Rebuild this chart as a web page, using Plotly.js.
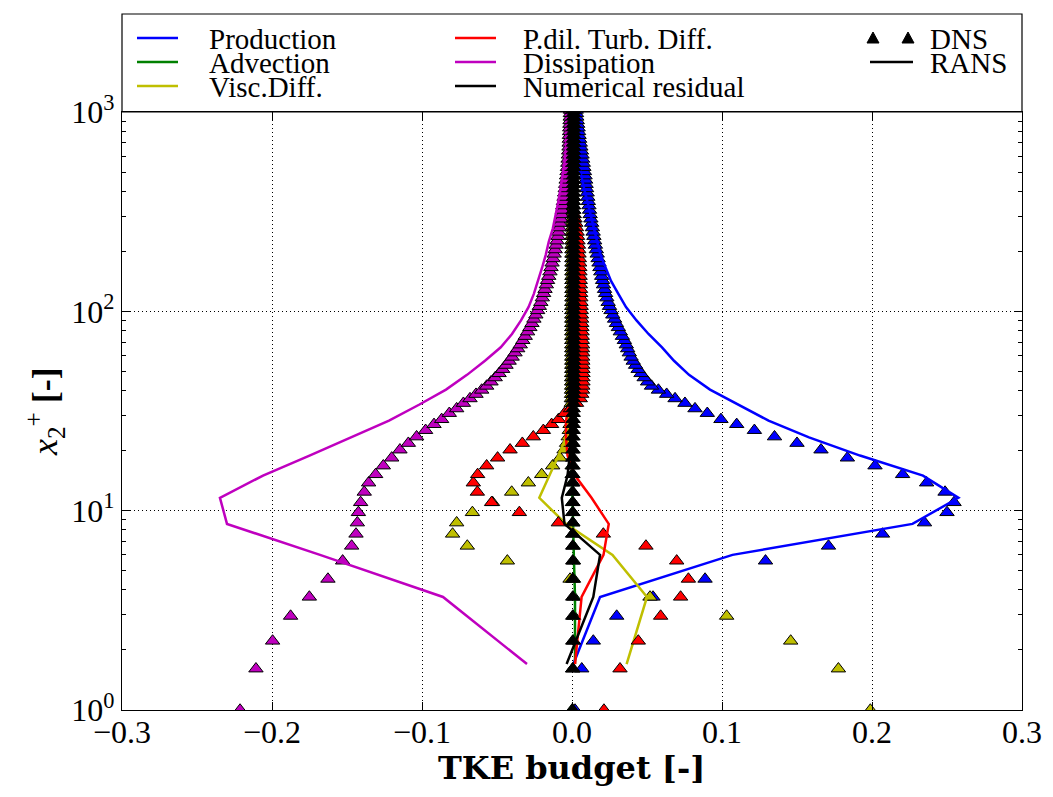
<!DOCTYPE html>
<html>
<head>
<meta charset="utf-8">
<script src="https://cdn.plot.ly/plotly-3.0.1.min.js"></script>
<style>
html,body{margin:0;padding:0;background:#fff;}
#chart{width:1053px;height:797px;}
</style>
</head>
<body>
<div id="chart"></div>
<script>
// ---------------- DATA ----------------
// DNS wall-normal grid (x2+)
const yDNS = [1.0, 1.61, 2.22, 2.96, 3.69, 4.54, 5.6, 6.65, 7.64, 8.7,
  9.8, 11.0, 12.4, 13.8, 15.2, 16.8, 18.4, 20.2, 21.8, 23.5,
  25.3, 27.1, 28.7, 30.8, 32.5, 34.6, 36.5, 38.4, 40.3, 42.2,
  44.3, 46.5, 48.8, 51.2, 53.7, 56.3, 59.0, 62.0, 65.0, 68.0,
  71.5, 75.0, 79.0, 83.0, 87.0, 91.5, 96.0, 101, 106, 111,
  117, 123, 129, 136, 143, 150, 158, 166, 175, 184,
  194, 204, 215, 226, 238, 250, 263, 277, 291, 306,
  322, 339, 356, 374, 393, 413, 434, 456, 479, 503,
  528, 554, 581, 609, 638, 668, 699, 731, 764, 798,
  833, 869, 906, 944, 983, 1023];

const prodDNS = [0.002, 0.0065, 0.0142, 0.0298, 0.054, 0.0887, 0.129, 0.171, 0.207, 0.235,
  0.250, 0.2547, 0.2487, 0.2364, 0.2204, 0.202, 0.1836, 0.166, 0.150, 0.135,
  0.1216, 0.1098, 0.0993, 0.0902, 0.082, 0.0753, 0.0687, 0.0631, 0.0576, 0.053,
  0.0504, 0.0481, 0.046, 0.0441, 0.0424, 0.0408, 0.0394, 0.0382, 0.0371, 0.0362,
  0.0349, 0.0336, 0.0322, 0.0309, 0.0296, 0.0284, 0.0272, 0.0260, 0.0250, 0.0241,
  0.0232, 0.0224, 0.0217, 0.0210, 0.0204, 0.0198, 0.0192, 0.0186, 0.0180, 0.0174,
  0.0168, 0.0162, 0.0156, 0.0151, 0.0146, 0.0141, 0.0136, 0.0131, 0.0126, 0.0121,
  0.0117, 0.0113, 0.0109, 0.0105, 0.0101, 0.0097, 0.0094, 0.0091, 0.0087, 0.0083,
  0.0079, 0.0075, 0.0071, 0.0067, 0.0063, 0.0059, 0.0055, 0.0051, 0.0047, 0.0044,
  0.0041, 0.0038, 0.0035, 0.0032, 0.0030, 0.0028];

const advDNS = [0.0, 0.0005, 0.001, 0.0012, 0.0012, 0.001, 0.001, 0.0008, 0.0006, 0.0005,
  0.0004, 0.0003, 0.0002, 0.0002, 0.0001, 0.0001, 0.0001, 0.0001, 0.0001, 0.0001,
  0.0001, 0.0001, 0.0001, 0.0001, 0.0001, 0.0001, 0.0001, 0.0001, 0.0001, 0.0001,
  0.0001, 0.0001, 0.0001, 0.0001, 0.0001, 0.0001, 0.0001, 0.0001, 0.0001, 0.0001,
  0.0001, 0.0001, 0.0001, 0.0001, 0.0001, 0.0001, 0.0001, 0.0001, 0.0001, 0.0001,
  0.0001, 0.0001, 0.0001, 0.0001, 0.0001, 0.0001, 0.0001, 0.0001, 0.0001, 0.0001,
  0.0001, 0.0001, 0.0001, 0.0001, 0.0001, 0.0001, 0.0001, 0.0001, 0.0001, 0.0001,
  0.0001, 0.0001, 0.0001, 0.0001, 0.0001, 0.0001, 0.0001, 0.0001, 0.0001, 0.0001,
  0.0001, 0.0001, 0.0001, 0.0001, 0.0001, 0.0001, 0.0001, 0.0001, 0.0001, 0.0001,
  0.0001, 0.0001, 0.0001, 0.0001, 0.0001, 0.0001];

const viscDNS = [0.1989, 0.1776, 0.1458, 0.1031, 0.052, -0.0013, -0.0431, -0.0698, -0.0796, -0.0769,
  -0.0664, -0.053, -0.0402, -0.0291, -0.0202, -0.0129, -0.008, -0.0053, -0.0036, -0.0025,
  -0.0018, -0.0013, -0.001, -0.0008, -0.0006, -0.0005, -0.0004, -0.0003, -0.0003, -0.0002,
  -0.0002, -0.0002, -0.0002, -0.0001, -0.0001, -0.0001, -0.0001, -0.0001, -0.0001, -0.0001,
  -0.0001, -0.0001, -0.0001, -0.0001, -0.0001, -0.0001, -0.0001, -0.0001, -0.0001, -0.0001,
  0.0, 0.0, 0.0, 0.0, 0.0, 0.0, 0.0, 0.0, 0.0, 0.0,
  0.0, 0.0, 0.0, 0.0, 0.0, 0.0, 0.0, 0.0, 0.0, 0.0,
  0.0, 0.0, 0.0, 0.0, 0.0, 0.0, 0.0, 0.0, 0.0, 0.0,
  0.0, 0.0, 0.0, 0.0, 0.0, 0.0, 0.0, 0.0, 0.0, 0.0,
  0.0, 0.0, 0.0, 0.0, 0.0, 0.0];

const pdilDNS = [0.0213, 0.032, 0.0442, 0.0591, 0.0724, 0.0776, 0.0698, 0.0493, 0.0209, -0.0091,
  -0.0351, -0.0536, -0.0631, -0.0658, -0.0629, -0.0569, -0.0496, -0.0413, -0.0331, -0.0258,
  -0.0191, -0.0136, -0.009, -0.005, -0.001, 0.003, 0.0055, 0.0065, 0.007, 0.0072,
  0.0073, 0.0073, 0.0073, 0.0073, 0.0072, 0.0072, 0.0071, 0.0071, 0.0070, 0.0070,
  0.0069, 0.0068, 0.0067, 0.0066, 0.0065, 0.0064, 0.0063, 0.0062, 0.0061, 0.0060,
  0.0059, 0.0058, 0.0057, 0.0056, 0.0055, 0.0054, 0.0053, 0.0052, 0.0051, 0.0049,
  0.0047, 0.0045, 0.0043, 0.0040, 0.0037, 0.0034, 0.0030, 0.0025, 0.0020, 0.0015,
  0.0011, 0.0008, 0.0006, 0.0005, 0.0004, 0.0004, 0.0003, 0.0003, 0.0003, 0.0003,
  0.0002, 0.0002, 0.0002, 0.0002, 0.0002, 0.0002, 0.0002, 0.0002, 0.0001, 0.0001,
  0.0001, 0.0001, 0.0001, 0.0001, 0.0001, 0.0001];

const dissDNS = [-0.2213, -0.2107, -0.1996, -0.1876, -0.1751, -0.1627, -0.1529, -0.1469, -0.144, -0.1431,
  -0.1424, -0.1409, -0.1385, -0.1356, -0.1309, -0.1258, -0.1202, -0.1147, -0.1091, -0.1036,
  -0.0976, -0.092, -0.0869, -0.0818, -0.0769, -0.0724, -0.068, -0.064, -0.0602, -0.0569,
  -0.054, -0.0512, -0.0486, -0.0462, -0.044, -0.0419, -0.0399, -0.038, -0.0362, -0.0345,
  -0.0328, -0.0312, -0.0296, -0.0281, -0.0267, -0.0254, -0.0241, -0.0229, -0.0218, -0.0208,
  -0.0198, -0.0189, -0.018, -0.0171, -0.0163, -0.0155, -0.0147, -0.014, -0.0133, -0.0126,
  -0.0119, -0.0112, -0.0106, -0.0100, -0.0094, -0.0089, -0.0084, -0.0079, -0.0074, -0.0069,
  -0.0065, -0.0061, -0.0057, -0.0053, -0.0049, -0.0045, -0.0042, -0.0039, -0.0036, -0.0033,
  -0.0030, -0.0028, -0.0026, -0.0024, -0.0022, -0.0020, -0.0019, -0.0018, -0.0017, -0.0016,
  -0.0015, -0.0014, -0.0013, -0.0012, -0.0011, -0.0010];

const numDNS = [0.0005, 0.0005, 0.0005, 0.0005, 0.0005, 0.0005, 0.0005, 0.0005, 0.0005, 0.0005,
  0.0006, 0.0006, 0.0006, 0.0006, 0.0006, 0.0007, 0.0007, 0.0007, 0.0007, 0.0007,
  0.0008, 0.0008, 0.0008, 0.0008, 0.0008, 0.0008, 0.0008, 0.0009, 0.0009, 0.0009,
  0.0009, 0.0009, 0.0009, 0.0009, 0.0010, 0.0010, 0.0010, 0.0010, 0.0010, 0.0010,
  0.0010, 0.0010, 0.0010, 0.0010, 0.0010, 0.0010, 0.0010, 0.0010, 0.0010, 0.0010,
  0.0010, 0.0010, 0.0010, 0.0010, 0.0010, 0.0010, 0.0010, 0.0010, 0.0010, 0.0010,
  0.0010, 0.0010, 0.0010, 0.0010, 0.0010, 0.0010, 0.0010, 0.0010, 0.0010, 0.0010,
  0.0010, 0.0010, 0.0010, 0.0010, 0.0010, 0.0010, 0.0010, 0.0010, 0.0010, 0.0010,
  0.0010, 0.0010, 0.0010, 0.0010, 0.0010, 0.0010, 0.0010, 0.0010, 0.0010, 0.0010,
  0.0010, 0.0010, 0.0010, 0.0010, 0.0010, 0.0010];

// RANS grid (x2+)
const yRANS = [1.7, 3.69, 6.0, 8.58, 11.6, 15.0, 18.9, 23.3, 28.3, 34.0,
  40.5, 48.0, 56.5, 66.0, 77.0, 90.0, 105, 122, 142, 165,
  192, 223, 260, 300, 350, 410, 480, 560, 650, 760,
  880, 1000];

const prodRANS = [0.0009, 0.0187, 0.107, 0.227, 0.2576, 0.234, 0.192, 0.158, 0.131, 0.111,
  0.092, 0.078, 0.068, 0.060, 0.051, 0.043, 0.036, 0.031, 0.026, 0.0225,
  0.019, 0.0168, 0.0145, 0.0125, 0.0105, 0.0082, 0.0062, 0.004, 0.0022, 0.0017,
  0.0015, 0.0013];

const advRANS = [0.002, 0.002, 0.0012, 0.0006, 0.0003, 0.0002, 0.0001, 0.0001, 0.0, 0.0,
  0.0, 0.0, 0.0, 0.0, 0.0, 0.0, 0.0, 0.0, 0.0, 0.0,
  0.0, 0.0, 0.0, 0.0, 0.0, 0.0, 0.0, 0.0, 0.0, 0.0,
  0.0, 0.0];

const viscRANS = [0.0364, 0.050, 0.027, -0.004, -0.0218, -0.015, -0.009, -0.004, -0.002, -0.001,
  -0.0005, -0.0003, -0.0002, -0.0001, 0.0, 0.0, 0.0, 0.0, 0.0, 0.0,
  0.0, 0.0, 0.0, 0.0, 0.0, 0.0, 0.0, 0.0, 0.0, 0.0,
  0.0, 0.0];

const pdilRANS = [0.002, 0.0064, 0.021, 0.0245, 0.013, 0.002, -0.003, -0.004, -0.004, -0.002,
  0.001, 0.002, 0.0025, 0.0025, 0.0024, 0.0022, 0.002, 0.0018, 0.0016, 0.0014,
  0.0012, 0.001, 0.0008, 0.0006, 0.0005, 0.0004, 0.0003, 0.0002, 0.0002, 0.0001,
  0.0001, 0.0001];

const dissRANS = [-0.030, -0.086, -0.168, -0.230, -0.2347, -0.206, -0.175, -0.147, -0.122, -0.102,
  -0.084, -0.070, -0.058, -0.0475, -0.040, -0.034, -0.029, -0.0255, -0.0225, -0.020,
  -0.0175, -0.0155, -0.0128, -0.011, -0.0093, -0.0077, -0.0062, -0.005, -0.004, -0.0033,
  -0.0028, -0.0025];

const numRANS = [-0.0036, 0.0142, 0.0187, -0.005, -0.0068, -0.003, -0.0015, -0.001, -0.0005, 0.0,
  0.0, 0.0, 0.0, 0.0, 0.0, 0.0, 0.0, 0.0, 0.0, 0.0,
  0.0, 0.0, 0.0, 0.0, 0.0, 0.0, 0.0, 0.0, 0.0, 0.0,
  0.0, 0.0];

const xTickVals = [-0.3, -0.2, -0.1, 0.0, 0.1, 0.2, 0.3];
const xTickText = ['\u22120.3', '\u22120.2', '\u22120.1', '0.0', '0.1', '0.2', '0.3'];
const yTickVals = [1, 10, 100, 1000];
const yTickText = ['10<sup>0</sup>', '10<sup>1</sup>', '10<sup>2</sup>', '10<sup>3</sup>'];
const xTitle = 'TKE budget [-]';
const yTitle = '<i>x</i><sub>2</sub><sup>+</sup> <b>[-]</b>';

const termNames = ['Production', 'Advection', 'Visc.Diff.', 'P.dil. Turb. Diff.', 'Dissipation', 'Numerical residual'];
const termColors = ['#0000ff', '#008000', '#bfbf00', '#ff0000', '#bf00bf', '#000000'];

// ---------------- TRACES ----------------
const dnsSeries = [prodDNS, advDNS, viscDNS, pdilDNS, dissDNS, numDNS];
const ransSeries = [prodRANS, advRANS, viscRANS, pdilRANS, dissRANS, numRANS];
const traces = [];
for (let i = 0; i < termNames.length; i++) {
  traces.push({
    type: 'scatter', mode: 'markers', name: termNames[i] + ' DNS',
    x: dnsSeries[i], y: yDNS, showlegend: false, hoverinfo: 'skip',
    marker: {symbol: 'triangle-up', size: 12.5, color: termColors[i], line: {color: '#000', width: 1}}
  });
  traces.push({
    type: 'scatter', mode: 'lines', name: termNames[i] + ' RANS',
    x: ransSeries[i], y: yRANS, showlegend: false, hoverinfo: 'skip',
    line: {color: termColors[i], width: 2.5}
  });
}

// ---------------- LAYOUT ----------------
const L = 122, R = 1022, T = 112, B = 710;
const px = v => (v - L) / (R - L);
const py = v => (B - v) / (B - T);

const shapes = [
  {type: 'rect', xref: 'paper', yref: 'paper', x0: 0, x1: 1, y0: 1, y1: py(14),
   line: {color: '#000', width: 1.2}, fillcolor: 'rgba(0,0,0,0)'}
];
const annotations = [];
const serif = 'Liberation Serif, Times New Roman, serif';
const legFont = {family: serif, size: 29, color: '#000'};
const rowsY = [38, 62, 86];
const cols = [{x0: 137, x1: 178, tx: 207}, {x0: 455, x1: 496, tx: 521}];
for (let i = 0; i < termNames.length; i++) {
  const c = cols[Math.floor(i / 3)], r = rowsY[i % 3];
  shapes.push({type: 'line', xref: 'paper', yref: 'paper', x0: px(c.x0), x1: px(c.x1), y0: py(r), y1: py(r),
    line: {color: termColors[i], width: 2.5}});
  annotations.push({xref: 'paper', yref: 'paper', x: px(c.tx), y: py(r + 1), xanchor: 'left', yanchor: 'middle',
    text: termNames[i], showarrow: false, font: legFont});
}
// DNS / RANS key
[873, 908].forEach(cx => {
  const cy = 38;
  shapes.push({type: 'path', xref: 'paper', yref: 'paper',
    path: 'M' + px(cx - 6) + ',' + py(cy + 5) + ' L' + px(cx + 6) + ',' + py(cy + 5) + ' L' + px(cx) + ',' + py(cy - 6) + ' Z',
    fillcolor: '#000', line: {color: '#000', width: 1}});
});
annotations.push({xref: 'paper', yref: 'paper', x: px(928), y: py(39), xanchor: 'left', yanchor: 'middle',
  text: 'DNS', showarrow: false, font: legFont});
shapes.push({type: 'line', xref: 'paper', yref: 'paper', x0: px(870), x1: px(913), y0: py(62), y1: py(62),
  line: {color: '#000', width: 2.5}});
annotations.push({xref: 'paper', yref: 'paper', x: px(928), y: py(63), xanchor: 'left', yanchor: 'middle',
  text: 'RANS', showarrow: false, font: legFont});

// axis titles
annotations.push({xref: 'paper', yref: 'paper', x: px(571), y: py(768), xanchor: 'center', yanchor: 'middle',
  text: xTitle, showarrow: false, font: {family: 'DejaVu Serif, serif', size: 32, color: '#000', weight: 'bold'}});
annotations.push({xref: 'paper', yref: 'paper', x: px(45), y: py(412), xanchor: 'center', yanchor: 'middle',
  textangle: -90, text: yTitle, showarrow: false, font: {family: serif, size: 36, color: '#000'}});

const tickFont = {family: serif, size: 32, color: '#000'};
const minorVals = [2,3,4,5,6,7,8,9,20,30,40,50,60,70,80,90,200,300,400,500,600,700,800,900];

const layout = {
  width: 1053, height: 797,
  margin: {l: L, r: 1053 - R, t: T, b: 797 - B, pad: 0},
  paper_bgcolor: '#fff', plot_bgcolor: '#fff',
  showlegend: false,
  xaxis: {
    range: [-0.3, 0.3], tickmode: 'array', tickvals: xTickVals, ticktext: xTickText,
    ticks: 'inside', ticklen: 8, tickwidth: 1, tickcolor: '#000', ticklabelstandoff: -7,
    showline: true, linecolor: '#000', linewidth: 1.2, mirror: 'ticks',
    showgrid: true, gridcolor: '#000', griddash: '1px,3px', gridwidth: 1,
    zeroline: false, tickfont: tickFont, automargin: false
  },
  yaxis: {
    type: 'log', range: [0, 3], tickmode: 'array', tickvals: yTickVals, ticktext: yTickText,
    ticks: 'inside', ticklen: 8, tickwidth: 1, tickcolor: '#000',
    showline: true, linecolor: '#000', linewidth: 1.2, mirror: 'ticks',
    showgrid: true, gridcolor: '#000', griddash: '1px,3px', gridwidth: 1,
    zeroline: false, tickfont: tickFont, automargin: false,
    minor: {tickmode: 'array', tickvals: minorVals, ticks: 'inside', ticklen: 4, tickcolor: '#000', showgrid: false}
  },
  shapes: shapes,
  annotations: annotations
};

Plotly.newPlot('chart', traces, layout, {staticPlot: true, displayModeBar: false});
</script>
</body>
</html>
